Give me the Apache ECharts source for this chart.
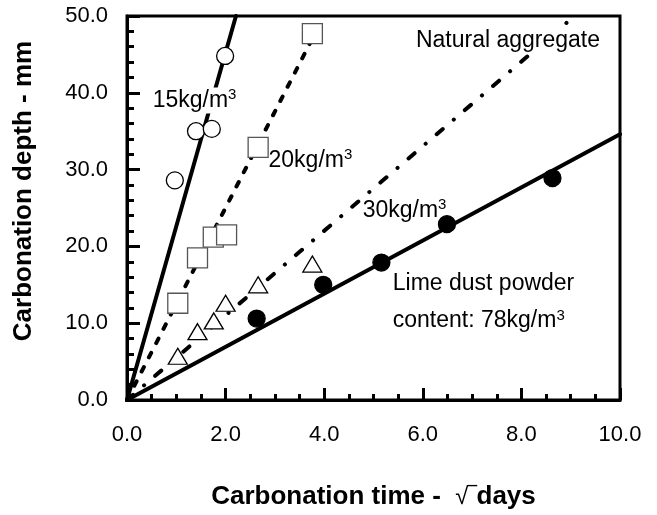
<!DOCTYPE html>
<html>
<head>
<meta charset="utf-8">
<script src="https://cdn.jsdelivr.net/npm/echarts@6/dist/echarts.min.js"></script>
<style>
html, body { margin: 0; padding: 0; background: #fff; }
#main { width: 657px; height: 515px; }
</style>
</head>
<body>
<div id="main"></div>
<script>
var xTicks = [0, 2, 4, 6, 8, 10];
var yTicks = [0, 10, 20, 30, 40, 50];

// open circles - 15kg/m3
var x15 = [0.97, 1.40, 1.72, 1.99];
var y15 = [28.6, 35.0, 35.3, 44.8];
// squares - 20kg/m3
var x20 = [1.03, 1.43, 1.75, 2.02, 2.66, 3.76];
var y20 = [12.6, 18.5, 21.2, 21.5, 32.9, 47.7];
// triangles - 30kg/m3
var x30 = [1.03, 1.43, 1.76, 2.0, 2.66, 3.76];
var y30 = [5.7, 8.9, 10.3, 12.6, 15.0, 17.7];
// filled circles - lime dust powder 78kg/m3
var x78 = [2.63, 3.98, 5.16, 6.49, 8.63];
var y78 = [10.6, 15.0, 17.9, 22.9, 28.9];

// fitted lines, start and end point
var fit15 = [[0, 0], [2.21, 50]];
var fit20 = [[0, 0], [3.93, 49.2]];
var fitNat = [[0, 0], [8.95, 49.3]];
var fit78 = [[0, 0], [10, 34.6]];

var FONT = 'Liberation Sans, Arial, sans-serif';

function zip(xs, ys) {
    var out = [];
    for (var i = 0; i < xs.length; i++) out.push([xs[i], ys[i]]);
    return out;
}

function fitLine(data, type) {
    return {
        type: 'line',
        data: data,
        symbol: 'none',
        silent: true,
        z: 2,
        lineStyle: { color: '#000', width: 4, type: type, cap: 'round' }
    };
}

function marks(data, symbol, size, fill, border) {
    return {
        type: 'scatter',
        data: data,
        symbol: symbol,
        symbolSize: size,
        silent: true,
        z: 20,
        itemStyle: { color: fill, borderColor: border, borderWidth: 1.3, opacity: 1 }
    };
}

var tickStyle = { color: '#000', width: 3 };

var chart = echarts.init(document.getElementById('main'));
var option = {
    animation: false,
    grid: {
        left: 127, right: 37, top: 16, bottom: 113.5,
        show: true, borderColor: '#000', borderWidth: 3
    },
    xAxis: {
        type: 'value',
        min: xTicks[0], max: xTicks[xTicks.length - 1], interval: xTicks[1] - xTicks[0],
        axisLine: { show: true, onZero: false, lineStyle: tickStyle },
        axisTick: { show: true, inside: true, length: 12, lineStyle: tickStyle },
        minorTick: { show: true, splitNumber: 4, length: 6, lineStyle: tickStyle },
        splitLine: { show: false },
        axisLabel: {
            margin: 24, color: '#000', fontSize: 22, fontFamily: FONT,
            showMinLabel: true, showMaxLabel: true,
            formatter: function (v) { return v.toFixed(1); }
        },
        name: 'Carbonation time -  {r|√‾}days',
        nameLocation: 'middle',
        nameGap: 84,
        nameTextStyle: {
            fontSize: 26, fontWeight: 'bold', color: '#000', fontFamily: FONT,
            rich: { r: { fontSize: 24, fontWeight: 'normal', color: '#000', fontFamily: FONT } }
        }
    },
    yAxis: {
        type: 'value',
        min: yTicks[0], max: yTicks[yTicks.length - 1], interval: yTicks[1] - yTicks[0],
        axisLine: { show: true, onZero: false, lineStyle: tickStyle },
        axisTick: { show: true, inside: true, length: 13, lineStyle: tickStyle },
        minorTick: { show: true, splitNumber: 5, length: 7, lineStyle: tickStyle },
        splitLine: { show: false },
        axisLabel: {
            margin: 19, color: '#000', fontSize: 22, fontFamily: FONT,
            showMinLabel: true, showMaxLabel: true,
            formatter: function (v) { return v.toFixed(1); }
        }
    },
    series: [
        fitLine(fit15, 'solid'),
        fitLine(fit20, [5, 11]),
        fitLine(fitNat, [8, 14.5, 0.1, 14.5]),
        fitLine(fit78, 'solid'),
        marks(zip(x15, y15), 'circle', 17, '#fff', '#000'),
        marks(zip(x20, y20), 'rect', 20, '#fff', '#555'),
        marks(zip(x30, y30), 'triangle', [19, 16], '#fff', '#000'),
        marks(zip(x78, y78), 'circle', 17, '#000', '#000')
    ]
};
chart.setOption(option);

// annotations, anchored at data coordinates (left edge, vertical middle)
var notes = [
    ['15kg/m{s|3}', 0.50, 39.0],
    ['20kg/m{s|3}', 2.85, 31.2],
    ['30kg/m{s|3}', 4.76, 24.7],
    ['Natural aggregate', 5.84, 46.8],
    ['Lime dust powder', 5.37, 15.2],
    ['content: 78kg/m{s|3}', 5.37, 10.3]
];
var graphics = notes.map(function (n) {
    var p = chart.convertToPixel('grid', [n[1], n[2]]);
    return {
        type: 'text', x: p[0], y: p[1], z: 10, silent: true,
        style: {
            text: n[0], fontSize: 23, fontFamily: FONT, fill: '#000',
            verticalAlign: 'middle', backgroundColor: '#fff', padding: [0, 1],
            rich: { s: { fontSize: 15, fontFamily: FONT, fill: '#000', verticalAlign: 'top', lineHeight: 26 } }
        }
    };
});
graphics.push({
    type: 'text', x: 24, y: 191, rotation: Math.PI / 2, z: 10, silent: true,
    style: {
        text: 'Carbonation depth - mm', fontSize: 26, fontWeight: 'bold', fontFamily: FONT,
        fill: '#000', align: 'center', verticalAlign: 'middle'
    }
});
chart.setOption({ graphic: graphics });

window.onresize = function () { chart.resize(); };
</script>
</body>
</html>
